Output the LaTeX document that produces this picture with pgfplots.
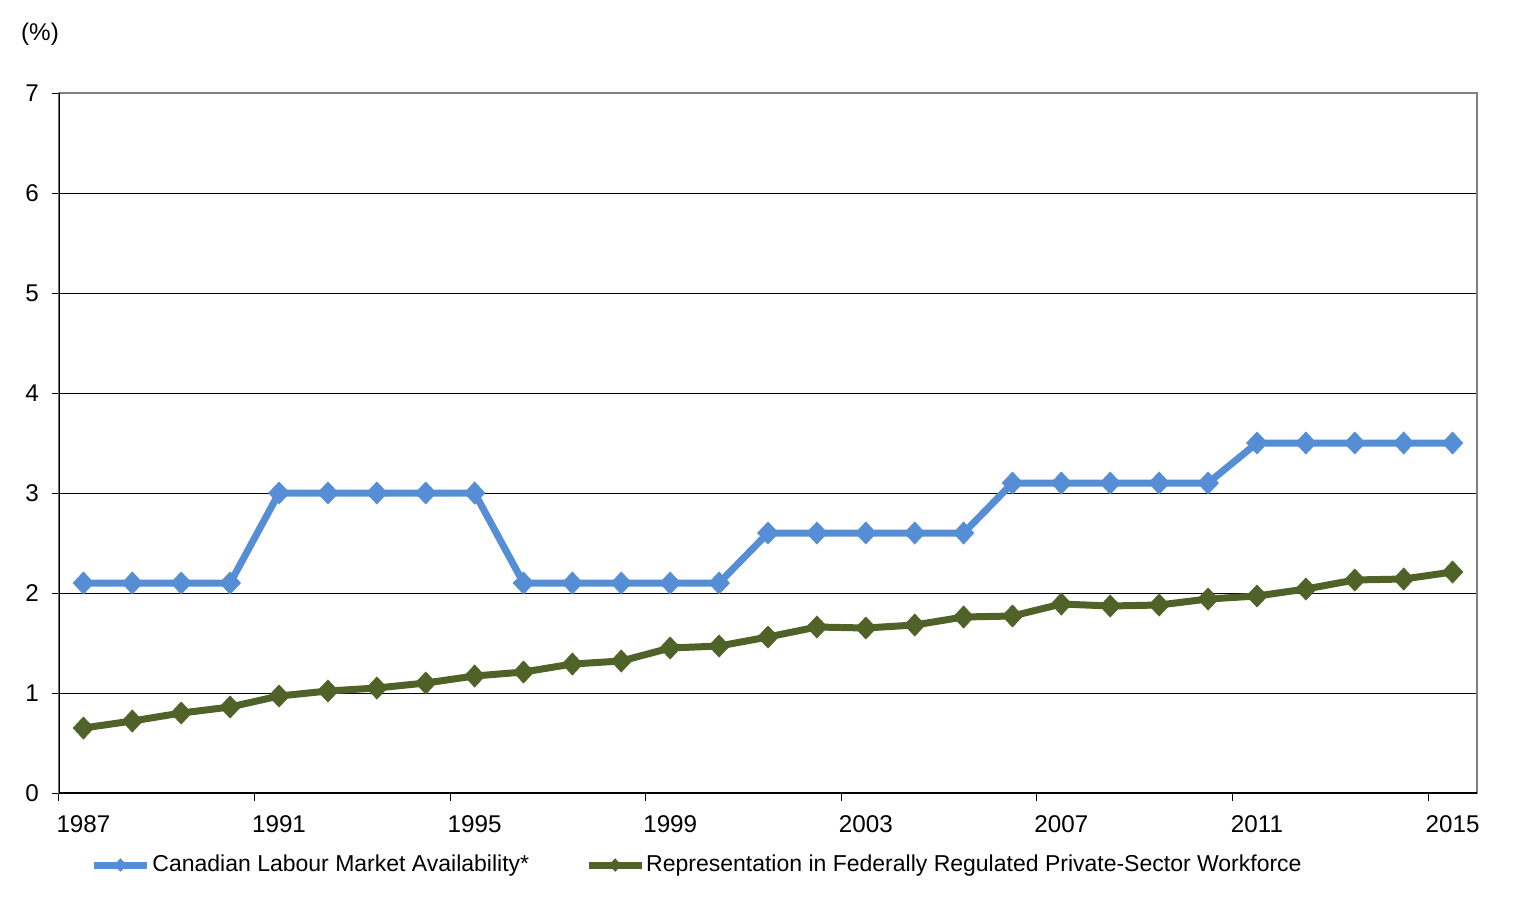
\documentclass[border=0pt]{standalone}
\usepackage{fontspec}
\setmainfont{Liberation Sans}
\usepackage{pgfplots}
\pgfplotsset{compat=1.18}

\definecolor{clmablue}{HTML}{558ED5}
\definecolor{repgreen}{HTML}{4F6228}

\begin{document}
\fontsize{11.5}{13.8}\selectfont
\begin{tikzpicture}
\path[use as bounding box] (-29.5pt,-62.5pt) rectangle (730.5pt,396.5pt);
\begin{axis}[
	at={(0pt,0pt)}, anchor=south west,
	scale only axis,
	width=709pt, height=350pt,
	xmin=1986.5, xmax=2015.5,
	ymin=0, ymax=7,
	ytick={0,1,...,7},
	xtick={1987,1991,...,2015},
	xticklabels={1987,1991,1995,1999,2003,2007,2011,2015},
	minor xtick={1986.5,1990.5,...,2014.5},
	major x tick style={draw=none},
	tick align=outside,
	tick pos=left,
	major tick length=3.5pt,
	minor tick length=4pt,
	tick style={black, line width=0.5pt},
	ymajorgrids=true,
	grid style={black, line width=0.5pt},
	axis line style={draw=gray, line width=0.6pt},
	/pgf/number format/assume math mode=true,
	ticklabel style={font=\fontsize{12.1}{14.5}\selectfont},
	yticklabel style={xshift=-2.5pt},
	xticklabel style={yshift=-4pt},
	legend columns=2,
	legend style={
		at={(axis description cs:0.0219,-0.1029)}, anchor=west,
		draw=none, fill=none, inner sep=0pt,
		font=\fontsize{11.5}{13.8}\selectfont,
		nodes={inner ysep=1pt, inner xsep=0pt, anchor=west},
		/tikz/column 1/.style={column sep=1pt},
		/tikz/column 2/.style={column sep=28pt},
		/tikz/column 3/.style={column sep=0.5pt},
	},
	legend image code/.code={%
		\draw[#1, mark indices={2}, mark size=3.2pt]
			plot coordinates {(0pt,0pt) (13.25pt,0pt) (26.5pt,0pt)};
	},
	every axis plot/.append style={
		line width=3.5pt,
		mark=diamond*,
		mark size=5.6pt,
		mark options={solid, line width=0.2pt, xscale=1.25},
	},
]
% Canadian Labour Market Availability
\addplot[color=clmablue] coordinates {
	(1987,2.1) (1988,2.1) (1989,2.1) (1990,2.1)
	(1991,3.0) (1992,3.0) (1993,3.0) (1994,3.0) (1995,3.0)
	(1996,2.1) (1997,2.1) (1998,2.1) (1999,2.1) (2000,2.1)
	(2001,2.6) (2002,2.6) (2003,2.6) (2004,2.6) (2005,2.6)
	(2006,3.1) (2007,3.1) (2008,3.1) (2009,3.1) (2010,3.1)
	(2011,3.5) (2012,3.5) (2013,3.5) (2014,3.5) (2015,3.5)
};
% Representation in federally regulated private-sector workforce
\addplot[color=repgreen] coordinates {
	(1987,0.65) (1988,0.72) (1989,0.80) (1990,0.86)
	(1991,0.97) (1992,1.02) (1993,1.05) (1994,1.10) (1995,1.17)
	(1996,1.21) (1997,1.29) (1998,1.32) (1999,1.45) (2000,1.47)
	(2001,1.56) (2002,1.66) (2003,1.65) (2004,1.68) (2005,1.76)
	(2006,1.77) (2007,1.89) (2008,1.87) (2009,1.88) (2010,1.94)
	(2011,1.97) (2012,2.04) (2013,2.13) (2014,2.14) (2015,2.21)
};
\legend{Canadian Labour Market Availability*, Representation in Federally Regulated Private-Sector Workforce}
% black left and bottom axis lines
\draw[black, line width=0.6pt] (rel axis cs:0,1) -- (rel axis cs:0,0) -- (rel axis cs:1,0);
\end{axis}
\node[anchor=center, font=\fontsize{12.1}{14.5}\selectfont] at (-9.5pt,379.5pt) {(\%)};
\end{tikzpicture}
\end{document}
